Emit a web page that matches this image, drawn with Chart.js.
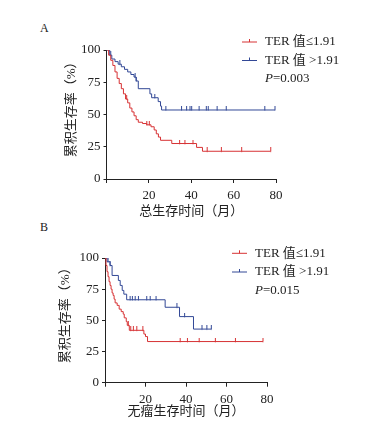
<!DOCTYPE html>
<html>
<head>
<meta charset="utf-8">
<script src="https://cdn.jsdelivr.net/npm/chart.js@4.4.1/dist/chart.umd.min.js"></script>
<style>
body { margin: 0; background: #fff; width: 370px; height: 425px; position: relative; overflow: hidden; }
.box { position: absolute; left: 0; width: 370px; }
#boxA { top: 0; height: 222px; }
#boxB { top: 222px; height: 203px; }
.tag { position: absolute; font: 12px 'Liberation Serif', serif; color: #222; }
</style>
</head>
<body>
<div class="tag" style="left:40px;top:21px">A</div>
<div class="tag" style="left:40px;top:220px">B</div>
<div class="box" id="boxA"><canvas id="chartA"></canvas></div>
<div class="box" id="boxB"><canvas id="chartB"></canvas></div>
<script>
/* A: overall survival */
const osLowT = [0, 1, 2, 3, 4, 5, 6, 7, 8, 9, 10, 11, 12, 13, 14, 15, 17, 19, 21, 22.5, 23.5, 24.5, 25.5, 30.8, 42.5, 45.3, 77.5];
const osLowS = [100, 96, 92, 88, 83, 78, 74, 70, 66, 62, 59, 55, 52, 49, 46, 44, 43, 42, 40.5, 38, 35, 32.5, 30, 27.5, 24.5, 21.5, 21.5];
const osLowCens = [9.5, 19, 20.2, 34.5, 37, 40.8, 47.5, 54.2, 63.8, 77.5];

const osHighT = [0, 1.5, 2.5, 4, 5.5, 7, 8.5, 10, 11.5, 13, 14, 15, 20.5, 21.3, 24.4, 25.5, 26, 79.5];
const osHighS = [100, 96, 93, 91, 89, 87, 85, 83, 81, 79, 76, 70, 66, 63, 60, 56.5, 53.5, 53.5];
const osHighCens = [2, 6.3, 13.5, 14, 22.8, 28, 35.4, 37.8, 39.4, 40.2, 43.7, 47.1, 48, 52.2, 56.5, 74.7, 79.5];

/* B: tumor-free survival */
const dfsLowT = [0, 0.5, 1, 1.5, 2, 2.5, 3, 3.5, 4, 4.5, 5, 6, 7, 8, 9, 9.5, 10.5, 11, 12, 19.2, 20, 21, 78];
const dfsLowS = [100, 94, 89, 85, 81, 78, 75, 72, 70, 67, 64, 62, 59, 57, 55, 52, 49, 46, 42, 39, 37, 33, 33];
const dfsLowCens = [11.5, 12.7, 14, 15.7, 18.7, 37.1, 40.7, 46.5, 54.5, 64.4, 78];

const dfsHighT = [0, 1, 2.5, 3.5, 6.6, 7.5, 8.5, 9.3, 10.7, 29.7, 36.8, 43.7, 52.5];
const dfsHighS = [100, 97, 94, 86, 82, 78, 74, 71, 66.5, 60.5, 53, 43, 43];
const dfsHighCens = [1.5, 2.5, 12.4, 13.5, 14.9, 16.5, 20.6, 22.3, 25.2, 35.5, 39.3, 47.9, 50.3, 52.5];

const groupLabels = ['TER 值≤1.91', 'TER 值 >1.91'];
const xTicks = [0, 20, 40, 60, 80];
const yTicks = [0, 25, 50, 75, 100];

const RED = 'rgb(215,50,52)';
const BLUE = 'rgb(50,72,150)';
const INK = '#222';
const SERIF = "'Liberation Serif', 'Noto Sans CJK SC', serif";

function stepAt(T, S, t) {
    let v = S[0];
    for (let i = 0; i < T.length; i++) if (T[i] <= t) v = S[i];
    return v;
}

// censor mark: short tick standing up from the curve
function tickMark(color) {
    const c = document.createElement('canvas');
    c.width = 3; c.height = 8;
    const g = c.getContext('2d');
    g.strokeStyle = color; g.lineWidth = 1;
    g.beginPath(); g.moveTo(1.5, 0); g.lineTo(1.5, 4.5); g.stroke();
    return c;
}

function curve(label, T, S, color) {
    return {
        type: 'line', label: label,
        data: T.map((t, i) => ({x: t, y: S[i]})),
        stepped: true, borderColor: color, borderWidth: 1,
        pointRadius: 0, fill: false
    };
}

function censor(T, S, C, color) {
    return {
        type: 'scatter', label: '',
        data: C.map(t => ({x: t, y: stepAt(T, S, t)})),
        pointStyle: tickMark(color), radius: 3,
        borderColor: color, backgroundColor: color
    };
}

// legend with the little censor tick + P value
const kmLegend = {
    id: 'kmLegend',
    afterDraw(chart, args, opts) {
        const ctx = chart.ctx;
        ctx.save();
        ctx.textBaseline = 'middle';
        ctx.lineWidth = 1;
        [0, 2].forEach((di, i) => {
            const ds = chart.data.datasets[di];
            const y = opts.y + i * opts.gap;
            ctx.strokeStyle = ds.borderColor;
            ctx.beginPath();
            ctx.moveTo(opts.x, y); ctx.lineTo(opts.x + 15, y);
            ctx.moveTo(opts.x + 7.5, y); ctx.lineTo(opts.x + 7.5, y - 3);
            ctx.stroke();
            ctx.fillStyle = INK;
            ctx.font = '13px ' + SERIF;
            ctx.fillText(ds.label, opts.tx, y);
        });
        const y = opts.y + 2 * opts.gap;
        ctx.font = 'italic 13px ' + SERIF;
        ctx.fillText('P', opts.tx, y);
        const w = ctx.measureText('P').width;
        ctx.font = '13px ' + SERIF;
        ctx.fillText('=' + opts.p, opts.tx + w, y);
        ctx.restore();
    }
};

function makeChart(id, sets, o) {
    return new Chart(document.getElementById(id), {
        data: {
            datasets: [
                curve(groupLabels[0], sets[0], sets[1], RED),
                censor(sets[0], sets[1], sets[2], RED),
                curve(groupLabels[1], sets[3], sets[4], BLUE),
                censor(sets[3], sets[4], sets[5], BLUE)
            ]
        },
        options: {
            responsive: true, maintainAspectRatio: false, animation: false,
            layout: {padding: o.pad},
            plugins: {legend: {display: false}, tooltip: {enabled: false}, kmLegend: o.legend},
            scales: {
                x: {
                    type: 'linear', min: 0, max: 80,
                    afterBuildTicks: s => { s.ticks = xTicks.map(v => ({value: v})); },
                    afterFit: s => { s.height = o.xh; },
                    ticks: {color: INK, font: {family: SERIF, size: 13}, padding: 5,
                        callback: v => v === 0 ? '' : v},
                    grid: {drawOnChartArea: false, tickLength: 4, color: INK},
                    border: {color: INK, width: 1},
                    title: {display: true, text: o.xTitle, color: INK,
                        font: {family: SERIF, size: 13}, padding: {top: 0, bottom: o.xtp}}
                },
                y: {
                    min: 0, max: 100,
                    afterBuildTicks: s => { s.ticks = yTicks.map(v => ({value: v})); },
                    afterFit: s => { s.width = o.yw; },
                    ticks: {color: INK, font: {family: SERIF, size: 13}, padding: 3},
                    grid: {drawOnChartArea: false, tickLength: 3, color: INK},
                    border: {color: INK, width: 1},
                    // leading space nudges the rotated title up a bit, like the original
                    title: {display: true, text: '\u3000 累积生存率（%）', color: INK,
                        font: {family: SERIF, size: 13}, padding: {top: o.ytp, bottom: 0}}
                }
            }
        },
        plugins: [kmLegend]
    });
}

makeChart('chartA',
    [osLowT, osLowS, osLowCens, osHighT, osHighS, osHighCens],
    {pad: {left: 58, top: 50, right: 94, bottom: 0}, xh: 43, yw: 48.5, xtp: 2.5, ytp: 6,
     xTitle: '总生存时间（月）', legend: {x: 242, tx: 265, y: 42, gap: 18.5, p: '0.003'}});

makeChart('chartB',
    [dfsLowT, dfsLowS, dfsLowCens, dfsHighT, dfsHighS, dfsHighCens],
    {pad: {left: 58, top: 36, right: 103, bottom: 0}, xh: 42.3, yw: 47, xtp: 5.5, ytp: 0,
     xTitle: '无瘤生存时间（月）', legend: {x: 232, tx: 255, y: 31.3, gap: 18.7, p: '0.015'}});
</script>
</body>
</html>
